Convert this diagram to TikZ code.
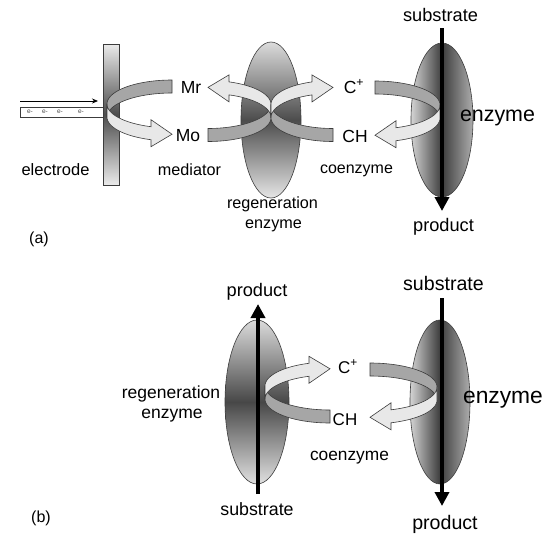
\documentclass[tikz,border=0pt]{standalone}
\usepackage{fontspec}
\setmainfont{Liberation Sans}
\usetikzlibrary{arrows.meta}
\definecolor{outl}{HTML}{3C3C3C}
\definecolor{bandgray}{HTML}{A6A6A6}
\definecolor{bandlight}{HTML}{E8E8E8}
\tikzset{
  backband/.style={fill=bandgray, draw=outl, line width=0.6pt},
  frontband/.style={fill=bandlight, draw=outl, line width=0.6pt},
  vshade/.style={top color=#1, bottom color=#1, middle color=black!68},
  hshade/.style={left color=black!17, right color=black!32, middle color=black!76},
  rim/.style={draw=outl, line width=0.6pt},
  flow/.style={line width=4pt, -{Triangle[width=14pt,length=14pt]}},
  lbl/.style={anchor=base, inner sep=0pt, font=\fontsize{#1}{#1}\selectfont},
}
\newcommand\myribbon[1]{%
  \pgfmathsetmacro\rR{#1}%
  \pgfmathsetmacro\tz{acos(-21/\rR)}%
  \pgfmathsetmacro\yt{24*sin(\tz)}%
  \pgfmathsetmacro\yc{\yt+6.5}%
  \path[backband] plot[domain=270:180,samples=30] ({\rR*cos(\x)},{24*sin(\x)})
     -- plot[domain=180:270,samples=30] ({\rR*cos(\x)},{13+24*sin(\x)}) -- cycle;
  \path[frontband] plot[domain=180:\tz,samples=30] ({\rR*cos(\x)},{24*sin(\x)})
     -- (-21,\yc-13.5) -- (0,\yc+1) -- (-21,\yc+13.5)
     -- plot[domain=\tz:180,samples=30] ({\rR*cos(\x)},{13+24*sin(\x)}) -- cycle;
}
\begin{document}
\begin{tikzpicture}[x=1pt,y=-1pt]
\fill[white] (0,0) rectangle (554,547);
\useasboundingbox (0,0) rectangle (554,547);

% ---------------- (a) ----------------
% electron wire
\draw[fill=white, draw=outl, line width=0.6pt] (20,107) rectangle (104,117);
\foreach \ex in {30,45,60,81}{
  \node[font=\fontsize{6.5}{7}\selectfont, text=black!70, inner sep=0pt] at (\ex,112) {e-};
}
\coordinate (wa) at (20,101);
\coordinate (wb) at (98,101);
\draw[line width=0.8pt, -{Stealth[length=6pt,width=5pt]}] (wa) -- (wb);
% electrode
\shade[top color=black!8, bottom color=black!8, middle color=black!70] (103,44) rectangle (119,185);
\draw[rim] (103,44) rectangle (119,185);
% regeneration enzyme (a)
\shade[top color=black!14, bottom color=black!10, middle color=black!70] (271,120) ellipse [x radius=30, y radius=78];
\draw[rim] (271,120) ellipse [x radius=30, y radius=78];
% enzyme (a)
\shade[hshade] (442,120) ellipse [x radius=31, y radius=77];
\draw[rim] (442,120) ellipse [x radius=31, y radius=77];

% ribbons (a)
\begin{scope}[shift={(172,104)}] \myribbon{65} \end{scope}
\begin{scope}[shift={(208,117.5)}, xscale=-1, yscale=-1] \myribbon{63} \end{scope}
\begin{scope}[shift={(333,117.5)}, yscale=-1] \myribbon{62} \end{scope}
\begin{scope}[shift={(375,105)}, xscale=-1] \myribbon{65} \end{scope}

% substrate -> product (a)
\coordinate (sa) at (442,28);
\coordinate (pa) at (442,211);
\draw[flow] (sa) -- (pa);

% labels (a)
\node[lbl=16.5] (electrode) at (55.5,175) {electrode};
\node[lbl=16.2] (mediator) at (189.5,175) {mediator};
\node[lbl=17.5] (Mr) at (191,93) {Mr};
\node[lbl=17.5] (Mo) at (188,141.5) {Mo};
\node[lbl=16.2] (regA1) at (272.5,208) {regeneration};
\node[lbl=16.2] (regA2) at (273.5,228) {enzyme};
\node[lbl=17.5] (CpA) at (354,93) {C\textsuperscript{+}};
\node[lbl=17.5] (CHA) at (355,142) {CH};
\node[lbl=16] (coA) at (356.5,173.5) {coenzyme};
\node[lbl=18.2] (subA) at (440.5,21) {substrate};
\node[lbl=18.2] (prodA) at (443.5,231) {product};
\node[lbl=21.4] (enzA) at (497.5,121) {enzyme};
\node[lbl=16] (a) at (39,243) {(a)};

% ---------------- (b) ----------------
\shade[top color=black!14, bottom color=black!12, middle color=black!72] (257,402) ellipse [x radius=32, y radius=82];
\draw[rim] (257,402) ellipse [x radius=32, y radius=82];
\shade[hshade] (440,402) ellipse [x radius=30, y radius=82];
\draw[rim] (440,402) ellipse [x radius=30, y radius=82];

\begin{scope}[shift={(330,399)}, yscale=-1] \myribbon{65} \end{scope}
\begin{scope}[shift={(370,387)}, xscale=-1] \myribbon{67} \end{scope}

\coordinate (sb1) at (258,494);
\coordinate (pb1) at (258,304);
\draw[flow] (sb1) -- (pb1);
\coordinate (sb2) at (442,298);
\coordinate (pb2) at (442,506);
\draw[flow] (sb2) -- (pb2);

\node[lbl=18.2] (prodB1) at (257,296) {product};
\node[lbl=17.8] (subB1) at (257,515) {substrate};
\node[lbl=19.6] (subB2) at (443.5,290) {substrate};
\node[lbl=19.6] (prodB2) at (445,529) {product};
\node[lbl=22.8] (enzB) at (503,403) {enzyme};
\node[lbl=17.5] (regB1) at (171,398) {regeneration};
\node[lbl=17.5] (regB2) at (172,418) {enzyme};
\node[lbl=17] (CpB) at (348,373) {C\textsuperscript{+}};
\node[lbl=17] (CHB) at (345,425) {CH};
\node[lbl=17.3] (coB) at (349.5,460) {coenzyme};
\node[lbl=16] (b) at (41,522) {(b)};
\end{tikzpicture}
\end{document}
